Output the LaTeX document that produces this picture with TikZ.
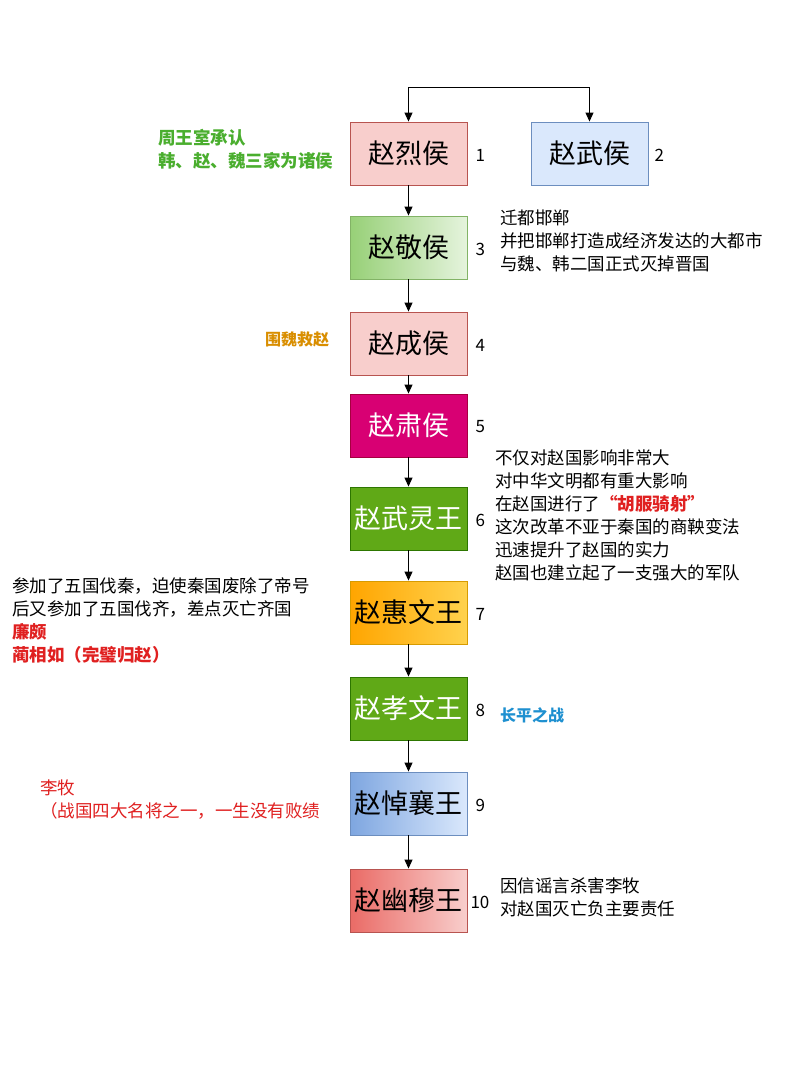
\documentclass[tikz,border=0pt]{standalone}
\usepackage{fontspec}
\setmainfont{Noto Sans CJK SC}
\usetikzlibrary{arrows.meta}
\definecolor{redfill}{HTML}{F8CECC}\definecolor{redline}{HTML}{B85450}
\definecolor{bluefill}{HTML}{DAE8FC}\definecolor{blueline}{HTML}{6C8EBF}
\definecolor{gline}{HTML}{82B366}\definecolor{gstart}{HTML}{97D077}
\definecolor{mag}{HTML}{D80073}\definecolor{magline}{HTML}{A50040}
\definecolor{grn}{HTML}{60A917}\definecolor{grnline}{HTML}{2D7600}
\definecolor{orng}{HTML}{FFA500}\definecolor{orngend}{HTML}{FFD24D}\definecolor{orngline}{HTML}{D79B00}
\definecolor{bl9}{HTML}{7EA6E0}
\definecolor{rd10}{HTML}{EA6B66}
\definecolor{anngreen}{HTML}{4AAE2E}\definecolor{annorange}{HTML}{D98E00}
\definecolor{annred}{HTML}{E02020}\definecolor{annblue}{HTML}{1E90D0}
\tikzset{
 box/.style={draw, line width=0.9pt, minimum width=117pt, minimum height=63pt, inner sep=0pt, font=\fontsize{27}{30}\selectfont},
 num/.style={anchor=west, font=\fontsize{17}{19}\selectfont},
 ann/.style={anchor=north west, align=left, font=\fontsize{17.5}{23}\selectfont, inner sep=0pt},
 annb/.style={ann, font=\fontsize{17.5}{23}\selectfont\bfseries},
 arr/.style={-{Triangle[length=9pt,width=8pt]}, line width=1pt}
}
\begin{document}
\begin{tikzpicture}[x=1pt,y=-1pt]
\useasboundingbox (0,0) rectangle (800,1066);
\fill[white] (0,0) rectangle (800,1066);
\node[box, draw=redline, fill=redfill] (b1) at (408.5,153.5) {赵烈侯};
\node[box, draw=blueline, fill=bluefill] (b2) at (589.5,153.5) {赵武侯};
\node[box, draw=gline, left color=gstart, right color=gstart!25!white] (b3) at (408.5,247.5) {赵敬侯};
\node[box, draw=redline, fill=redfill] (b4) at (408.5,343.5) {赵成侯};
\node[box, draw=magline, fill=mag, text=white] (b5) at (408.5,425.5) {赵肃侯};
\node[box, draw=grnline, fill=grn, text=white] (b6) at (408.5,518.5) {赵武灵王};
\node[box, draw=orngline, left color=orng, right color=orngend] (b7) at (408.5,612.5) {赵惠文王};
\node[box, draw=grnline, fill=grn, text=white] (b8) at (408.5,708.5) {赵孝文王};
\node[box, draw=blueline, left color=bl9, right color=bluefill] (b9) at (408.5,803.5) {赵悼襄王};
\node[box, draw=redline, left color=rd10, right color=redfill] (b10) at (408.5,900.5) {赵幽穆王};
\coordinate (t) at (408.5,87);
\draw[arr] (t) -- (b1.north);
\draw[arr] (t) -| (b2.north);
\foreach \a/\b in {b1/b3,b3/b4,b4/b5,b5/b6,b6/b7,b7/b8,b8/b9,b9/b10} \draw[arr] (\a) -- (\b);
\node[num] (n1) at (472,155) {1};
\node[num] (n2) at (651,155) {2};
\node[num] (n3) at (472,249) {3};
\node[num] (n4) at (472,345) {4};
\node[num] (n5) at (472,427) {5};
\node[num] (n6) at (472,520) {6};
\node[num] (n7) at (472,614) {7};
\node[num] (n8) at (472,710) {8};
\node[num] (n9) at (472,805) {9};
\node[num] (n10) at (467,902) {10};
\node[annb, text=anngreen] (a1) at (158,129) {周王室承认\\韩、赵、魏三家为诸侯};
\node[ann] (a3) at (500,210) {迁都邯郸\\并把邯郸打造成经济发达的大都市\\与魏、韩二国正式灭掉晋国};
\node[annb, text=annorange, font=\fontsize{16}{20}\selectfont\bfseries] (a4) at (265,332) {围魏救赵};
\node[ann] (a6) at (495,450) {不仅对赵国影响非常大\\对中华文明都有重大影响\\在赵国进行了{\color{annred}\bfseries “胡服骑射”}\\这次改革不亚于秦国的商鞅变法\\迅速提升了赵国的实力\\赵国也建立起了一支强大的军队};
\node[ann] (a7) at (12,577) {参加了五国伐秦，迫使秦国废除了帝号\\后又参加了五国伐齐，差点灭亡齐国\\{\color{annred}\bfseries 廉颇}\\{\color{annred}\bfseries 蔺相如（完璧归赵）}};
\node[annb, text=annblue, font=\fontsize{16}{20}\selectfont\bfseries] (a8) at (500,707) {长平之战};
\node[ann, text=annred] (a9) at (40,780) {李牧\\（战国四大名将之一，一生没有败绩};
\node[ann] (a10) at (500,877) {因信谣言杀害李牧\\对赵国灭亡负主要责任};
\end{tikzpicture}
\end{document}
